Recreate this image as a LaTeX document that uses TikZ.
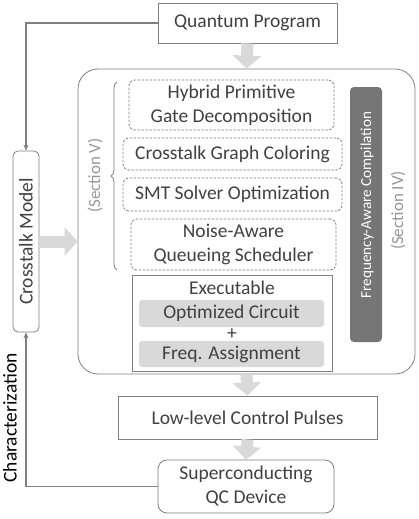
\documentclass[tikz,border=0pt]{standalone}
\usepackage{fontspec}
\setmainfont{Carlito}
\usepackage{tikz}
\usetikzlibrary{arrows.meta, decorations.pathreplacing}
\definecolor{txt}{RGB}{64, 64, 64}
\definecolor{edge}{RGB}{128, 128, 128}
\definecolor{pale}{RGB}{217, 217, 217}
\definecolor{dark}{RGB}{118, 118, 118}
\definecolor{note}{RGB}{150, 150, 150}

\tikzset{
  box/.style={draw=edge, thick, text=txt, align=center, inner sep=0pt},
  dashbox/.style={box, line width=0.8pt, dash pattern=on 2.5pt off 1.5pt, rounded corners=6pt},
  greybox/.style={fill=pale, rounded corners=3pt, text=txt, inner sep=0pt},
  link/.style={draw=edge, line width=1.2pt, -{Stealth[length=6pt, width=5pt]}},
  blockarrow/.style={draw=pale, line width=12pt, -{Triangle[length=13pt, width=28pt]}},
  remark/.style={text=note, font=\fontsize{17}{20}\selectfont}
}

\begin{document}
\begin{tikzpicture}[x=1pt, y=-1pt, font=\fontsize{19.5}{24}\selectfont]

  \useasboundingbox (0, 0) rectangle (419, 519);

  % outer flow
  \node[box, minimum width=179, minimum height=40] (qp) at (247.5, 23) {Quantum Program};
  \node[box, rounded corners=20pt, minimum width=337, minimum height=305] (main) at (246.5, 221.5) {};
  \node[box, rounded corners=5pt, rotate=90, minimum width=181, minimum height=26] (xtalk) at (26, 241.5) {Crosstalk Model};
  \node[box, minimum width=259, minimum height=43] (pulse) at (247.5, 417.5) {Low-level Control Pulses};
  \node[box, rounded corners=9pt, minimum width=176, minimum height=53] (dev) at (246, 486.5) {Superconducting\\QC Device};
  \node[rotate=90, text=black] (char) at (10, 418) {Characterization};

  % compilation passes
  \node[dashbox, minimum width=205, minimum height=50] (decomp) at (231.5, 105) {Hybrid Primitive\\Gate Decomposition};
  \node[dashbox, minimum width=219, minimum height=32] (coloring) at (232.5, 154) {Crosstalk Graph Coloring};
  \node[dashbox, minimum width=219, minimum height=33] (smt) at (232.5, 194.5) {SMT Solver Optimization};
  \node[dashbox, minimum width=205, minimum height=51] (sched) at (233.5, 244.5) {Noise-Aware\\Queueing Scheduler};

  \draw[edge, thick, decorate, decoration={brace, amplitude=6pt}]
    (117, 270) -- (117, 82);
  \node[remark, rotate=90] (sec5) at (95, 175.5) {(Section V)};

  % executable
  \node[box, minimum width=200, minimum height=96] (exe) at (232, 323) {};
  \node[text=txt] (exetitle) at (232, 288) {Executable};
  \node[greybox, minimum width=185, minimum height=27] (circ) at (231.5, 313.5) {Optimized Circuit};
  \node[text=txt] (plus) at (232, 334) {+};
  \node[greybox, minimum width=185, minimum height=26] (freq) at (231.5, 354) {Freq. Assignment};

  \node[fill=dark, rounded corners=4pt, minimum width=32, minimum height=255] (fac) at (366, 214.5) {};
  \node[text=white, rotate=90, font=\fontsize{15.2}{18}\selectfont]
    (factext) at (367, 205) {Frequency-Aware Compilation};
  \node[remark, rotate=90] (sec4) at (398, 210.5) {(Section IV)};

  % arrows
  \draw[blockarrow] (qp.south) -- (main.north);
  \draw[blockarrow] (main.south) -- (pulse.north);
  \draw[blockarrow] (pulse.south) -- (dev.north);
  \draw[blockarrow] (xtalk.south) -- (xtalk.south -| main.west);
  \draw[link] (qp.west) -| (xtalk.east);
  \draw[link] (dev.west) -| (xtalk.west);

\end{tikzpicture}
\end{document}
